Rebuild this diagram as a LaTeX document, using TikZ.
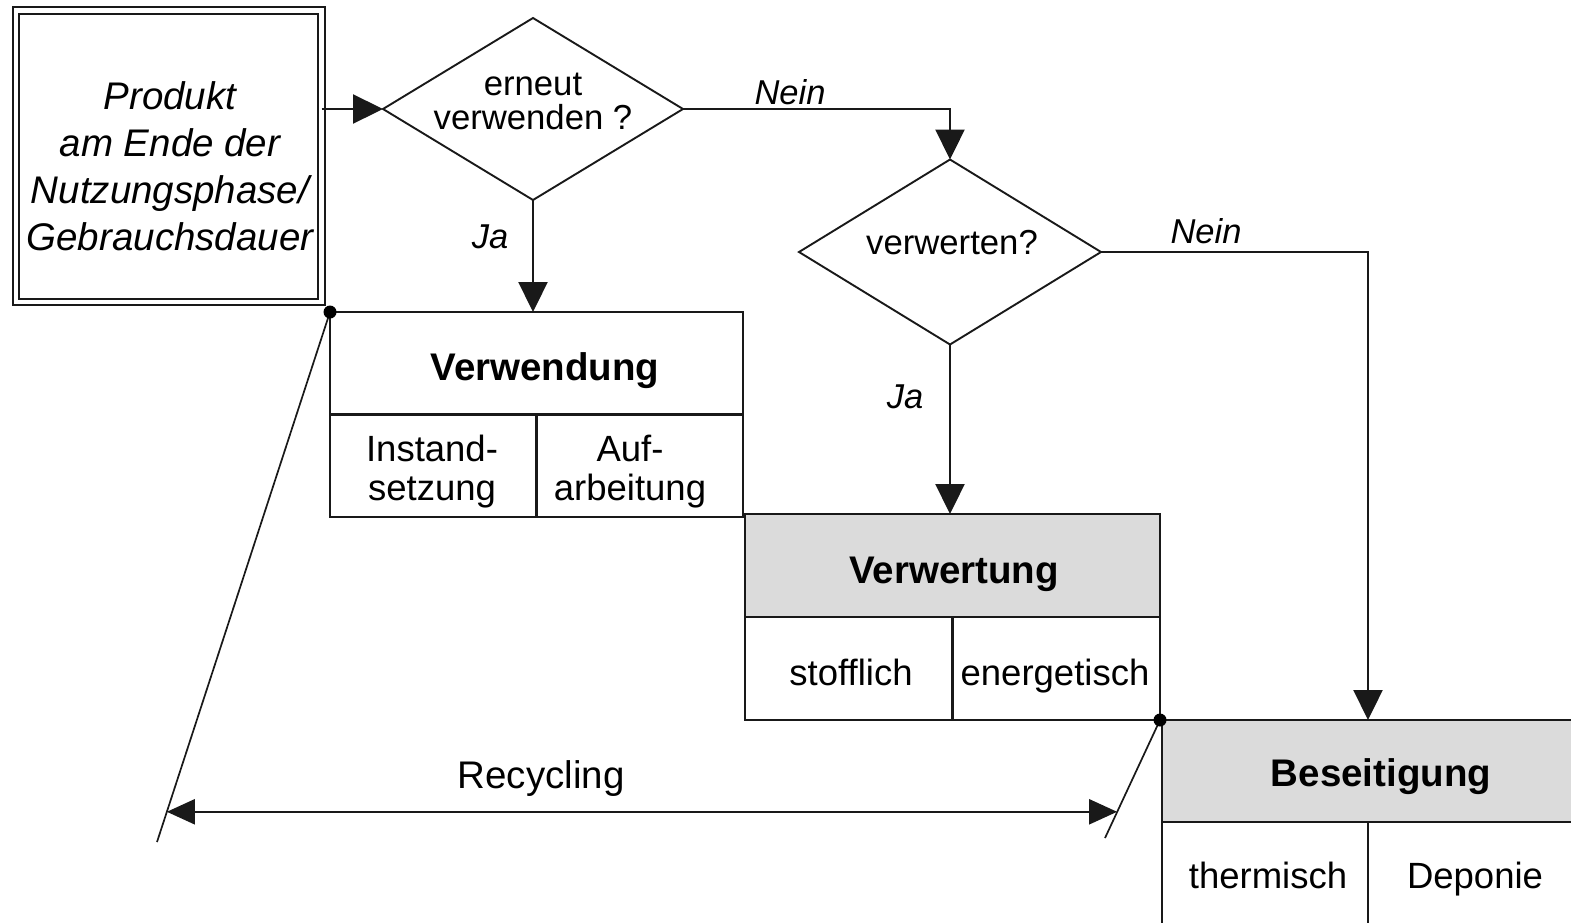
\documentclass[tikz,border=0pt]{standalone}
\usepackage{fontspec}
\setmainfont{Liberation Sans}
\usetikzlibrary{shapes.geometric,arrows.meta,calc}
\begin{document}
\begin{tikzpicture}[x=1pt,y=-1pt,
  every node/.style={inner sep=0pt, outer sep=0pt},
  ln/.style={line width=2.3pt, draw=black!90},
  thin ln/.style={line width=1.7pt, draw=black!90},
  arr/.style={ln, -{Triangle[length=30pt,width=29pt]}},
  rarr/.style={ln, {Triangle[length=28pt,width=25pt]}-{Triangle[length=28pt,width=25pt]}},
  dia/.style={diamond, draw=black!90, line width=1.9pt},
  gridbox/.style={rectangle, draw=black!90, line width=2.3pt},
  hdr/.style={path picture={\fill[gray!28] (path picture bounding box.north west) rectangle (path picture bounding box.east);}},
  qtxt/.style={font=\fontsize{34.7}{34}\selectfont, align=center},
  lbl/.style={font=\fontsize{34.5}{40}\selectfont\itshape},
  head/.style={font=\fontsize{38.5}{46}\selectfont\bfseries, anchor=base},
  cell/.style={font=\fontsize{36.5}{39}\selectfont, align=center},
  cellb/.style={font=\fontsize{36.5}{39}\selectfont, anchor=base},
  ptxt/.style={font=\fontsize{38.5}{47}\selectfont\itshape, align=center},
  dot/.style={fill=black}
]
\useasboundingbox (0,0) rectangle (1571,922);
\clip (0,0) rectangle (1571,922);

% start box
\node[rectangle, draw=black!90, line width=1.9pt, double=white, double distance=4.5pt,
      minimum width=305.5pt, minimum height=291.5pt] (prod) at (168.75,156.25) {};
\node[ptxt] (prodtext) at (170,166) {Produkt\\am Ende der\\Nutzungsphase/\\Gebrauchsdauer};

% decisions
\node[dia, minimum width=300pt, minimum height=182pt] (d1) at (533,109) {};
\node[qtxt] (d1text) at (533,101) {erneut\\verwenden ?};
\node[dia, minimum width=302pt, minimum height=185pt] (d2) at (950,252) {};
\node[qtxt] (d2text) at (952,243) {verwerten?};

% result boxes
\node[gridbox, minimum width=413pt, minimum height=205pt] (verw) at (536.5,414.5) {};
\node[gridbox, hdr, minimum width=415pt, minimum height=206pt] (verwt) at (952.5,617) {};
\node[gridbox, hdr, minimum width=412pt, minimum height=204pt] (bes) at (1368,822) {};
\foreach \b in {verw,verwt,bes}{
  \draw[ln] (\b.west) -- (\b.east);
  \draw[ln] (\b.center) -- (\b.south);
}

\node[head] (verwh) at (545,380) {Verwendung};
\node[cell] (inst) at (432,472) {Instand-\\setzung};
\node[cell] (aufa) at (630,472) {Auf-\\arbeitung};

\node[head] (verwth) at (954,583) {Verwertung};
\node[cellb] (stoff) at (851,685) {stofflich};
\node[cellb] (energ) at (1055,685) {energetisch};

\node[head] (besh) at (1381,786) {Beseitigung};
\node[cellb] (therm) at (1268,888) {thermisch};
\node[cellb] (depo) at (1475,888) {Deponie};

% connectors
\draw[arr] (prod.east |- d1.west) -- (d1.west);
\draw[arr] (d1.south) -- (d1.south |- verw.north);
\draw[arr] (d1.east) -| (d2.north);
\draw[arr] (d2.south) -- (d2.south |- verwt.north);
\draw[arr] (d2.east) -| (bes.north);

\node[lbl] (nein1) at (790,92) {Nein};
\node[lbl] (ja1) at (490,237) {Ja};
\node[lbl] (nein2) at (1206,231) {Nein};
\node[lbl] (ja2) at (905,397) {Ja};

% recycling
\coordinate (s1) at (157,842);
\coordinate (s2) at (1105,838);
\draw[thin ln] (verw.north west) -- (s1);
\draw[thin ln] (verwt.south east) -- (s2);
\fill[dot] (verw.north west) circle (6.5pt);
\fill[dot] (verwt.south east) circle (6.5pt);
\coordinate (r1) at ($(verw.north west)!0.943!(s1)$);
\coordinate (r2) at ($(verwt.south east)!0.78!(s2)$);
\draw[rarr] (r1) -- (r1 -| r2);
\node[font=\fontsize{38.5}{46}\selectfont] (recy) at (541,779) {Recycling};
\end{tikzpicture}
\end{document}
